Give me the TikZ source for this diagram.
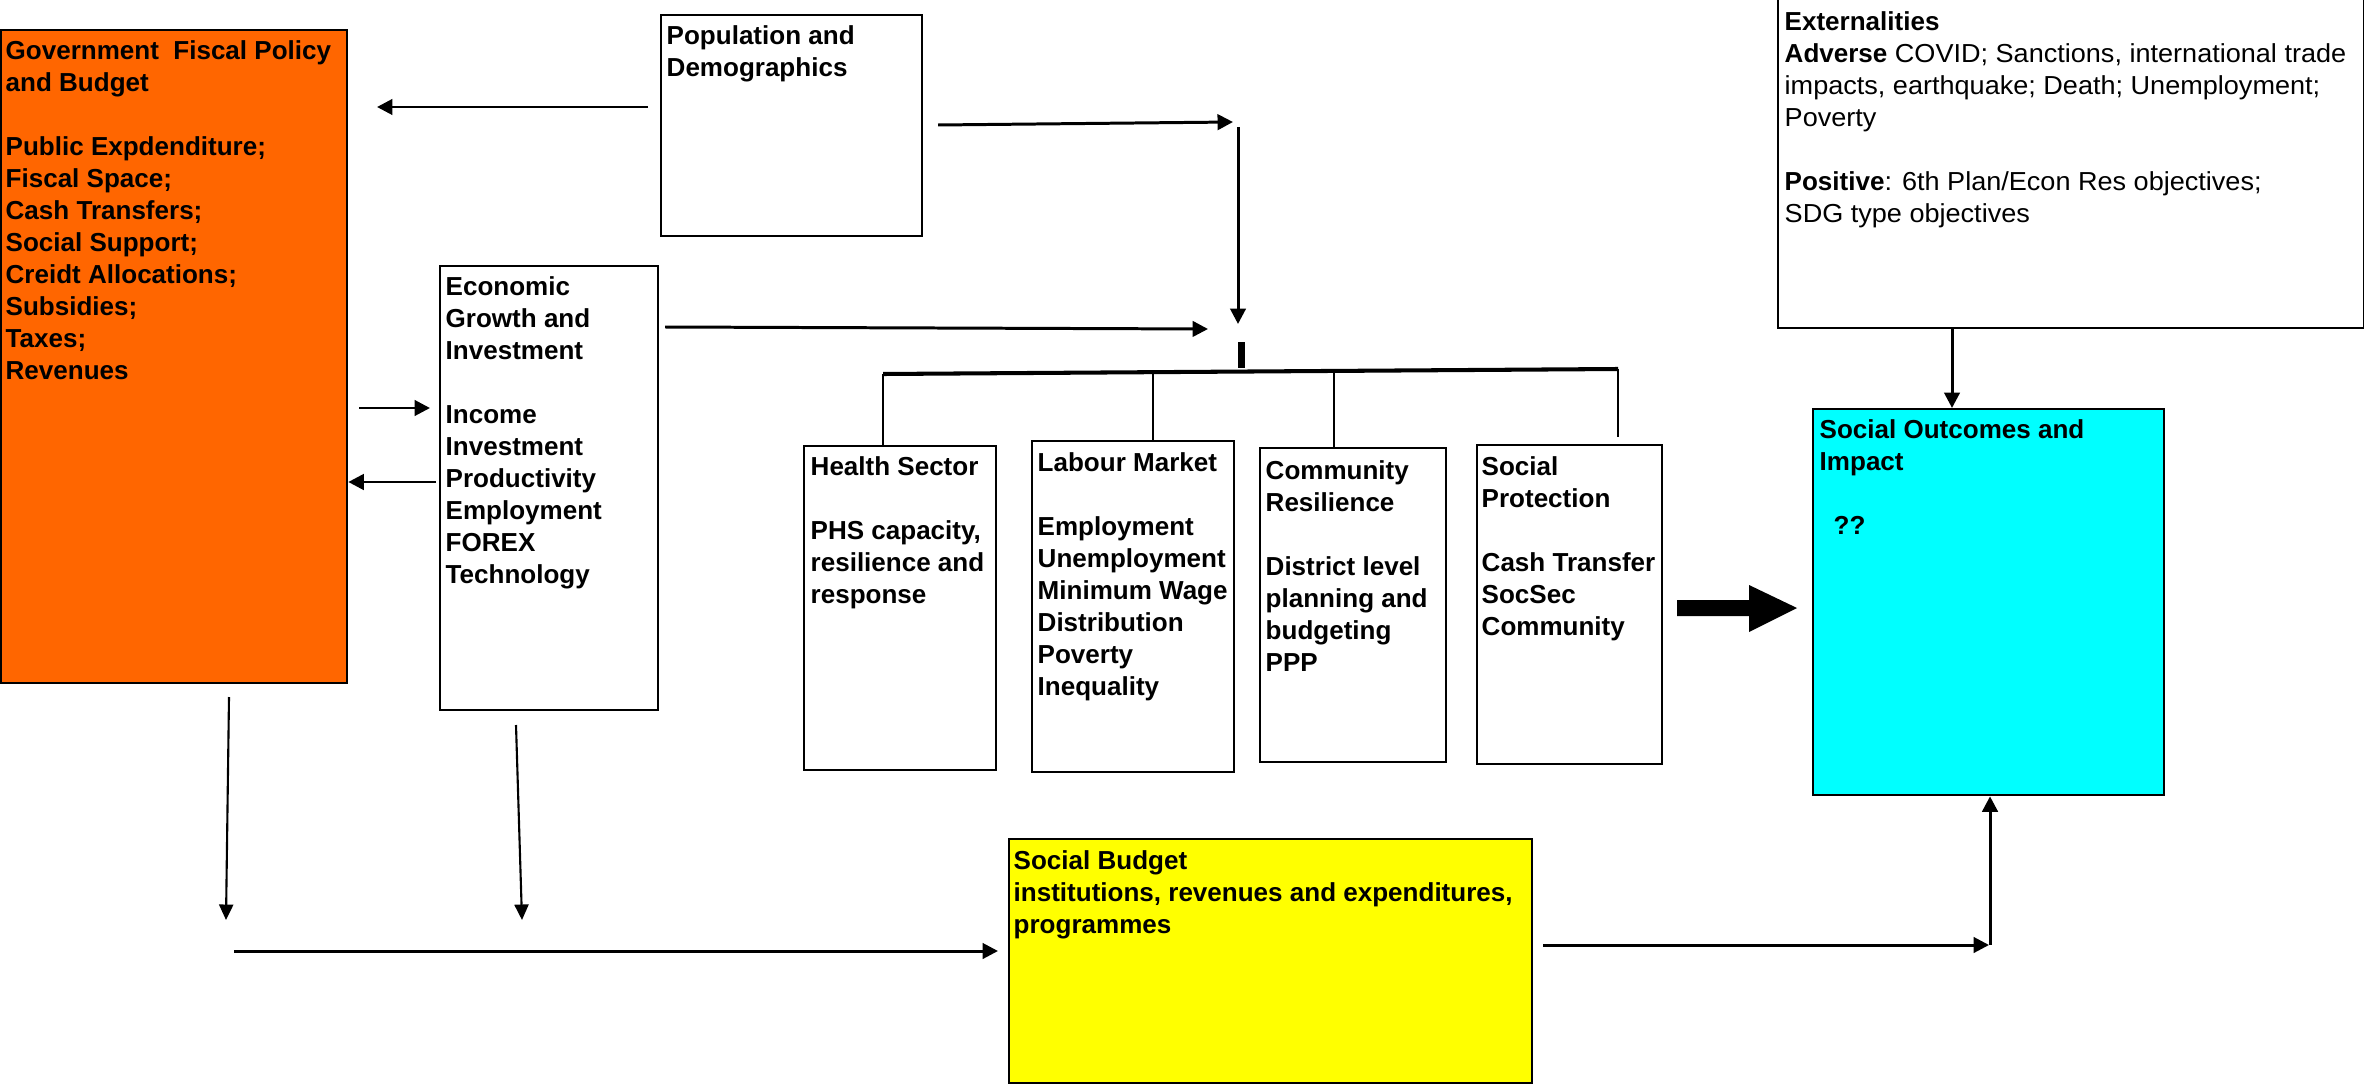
\documentclass[tikz,border=0pt]{standalone}
\usepackage{fontspec}
\setmainfont{Liberation Sans}
\newfontfamily\extreg[FakeStretch=1.04]{Liberation Sans}
\usetikzlibrary{arrows.meta}
\definecolor{govorange}{HTML}{FF6600}
\definecolor{outcyan}{HTML}{00FFFF}
\definecolor{budyellow}{HTML}{FFFF00}
\newcommand{\bfnorm}[1]{{\normalfont\bfseries #1}}
\begin{document}
\begin{tikzpicture}[x=0.01cm,y=-0.01cm,
  boxnode/.style={draw=black, line width=0.6pt, inner sep=0, anchor=north west},
  txt/.style={anchor=north west, align=left, inner sep=0, font=\fontsize{7.4pt}{9.1pt}\selectfont\bfseries},
  txtreg/.style={anchor=north west, align=left, inner sep=0, font=\fontsize{7.4pt}{9.1pt}\selectfont\extreg},
  arr/.style={line width=0.85pt, -{Triangle[length=4.4pt,width=4.4pt]}},
  thinarr/.style={line width=0.6pt, -{Triangle[length=4.4pt,width=4pt]}},
  plain/.style={line width=0.6pt}]
\useasboundingbox (0,0) rectangle (2364,1085);
\fill[white] (0,0) rectangle (2364,1085);

% boxes
\node[boxnode, fill=govorange, minimum width=3.46cm, minimum height=6.53cm] (gov) at (0,29) {};
\node[boxnode, minimum width=2.61cm, minimum height=2.21cm] (pop) at (660,14) {};
\node[boxnode, minimum width=2.18cm, minimum height=4.44cm] (econ) at (439,265) {};
\node[boxnode, minimum width=5.86cm, minimum height=3.32cm] (ext) at (1777,-5) {};
\node[boxnode, minimum width=1.92cm, minimum height=3.24cm] (health) at (803,445) {};
\node[boxnode, minimum width=2.02cm, minimum height=3.31cm] (labour) at (1031,440) {};
\node[boxnode, minimum width=1.86cm, minimum height=3.14cm] (comm) at (1259,447) {};
\node[boxnode, minimum width=1.85cm, minimum height=3.19cm] (socprot) at (1476,444) {};
\node[boxnode, fill=outcyan, minimum width=3.51cm, minimum height=3.86cm] (outc) at (1812,408) {};
\node[boxnode, fill=budyellow, minimum width=5.23cm, minimum height=2.44cm] (budget) at (1008,838) {};

% texts
\node[txt] (govtxt) at (5,40) {Government\ \ Fiscal Policy\\and Budget\\[9.1pt]Public Expdenditure;\\Fiscal Space;\\Cash Transfers;\\Social Support;\\Creidt Allocations;\\Subsidies;\\Taxes;\\Revenues};
\node[txt] (poptxt) at (666,25) {Population and\\Demographics};
\node[txt] (econtxt) at (445,276) {Economic\\Growth and\\Investment\\[9.1pt]Income\\Investment\\Productivity\\Employment\\FOREX\\Technology};
\node[txtreg] (exttxt) at (1784,11) {\bfnorm{Externalities}\\\bfnorm{Adverse} COVID; Sanctions, international trade\\impacts, earthquake; Death; Unemployment;\\Poverty\\[9.1pt]\bfnorm{Positive}: 6th Plan/Econ Res objectives;\\SDG type objectives};
\node[txt] (healthtxt) at (810,456) {Health Sector\\[9.1pt]PHS capacity,\\resilience and\\response};
\node[txt] (labourtxt) at (1037,452) {Labour Market\\[9.1pt]Employment\\Unemployment\\Minimum Wage\\Distribution\\Poverty\\Inequality};
\node[txt] (commtxt) at (1265,460) {Community\\Resilience\\[9.1pt]District level\\planning and\\budgeting\\PPP};
\node[txt] (socprottxt) at (1481,456) {Social\\Protection\\[9.1pt]Cash Transfer\\SocSec\\Community};
\node[txt] (outctxt) at (1819,419) {Social Outcomes and\\Impact\\[9.1pt]\hspace{0.14cm}??};
\node[txt] (budtxt) at (1013,850) {Social Budget\\institutions, revenues and expenditures,\\programmes};

% free connector ends
\coordinate (p1) at (648,107);  \coordinate (p2) at (377,107);
\coordinate (p3) at (938,125);  \coordinate (p4) at (1233,122);
\coordinate (j1) at (1238,127); \coordinate (j2) at (1238,324);
\coordinate (e1) at (665,327);  \coordinate (e2) at (1208,329);
\coordinate (b1) at (1241,342); \coordinate (b2) at (1241,368);
\coordinate (h1) at (883,374);  \coordinate (h2) at (1618,369);
\coordinate (d2) at (1153,371); \coordinate (d3) at (1334,369);
\coordinate (d4e) at (1618,437);
\coordinate (g1) at (359,408);  \coordinate (g2) at (430,408);
\coordinate (g3) at (436,482);
\coordinate (v1) at (229,697);  \coordinate (v2) at (226,920);
\coordinate (w1) at (516,725);  \coordinate (w2) at (522,920);
\coordinate (s1) at (234,951);  \coordinate (s2) at (998,951);
\coordinate (r1) at (1543,945); \coordinate (r2) at (1989,945);
\coordinate (r3) at (1990,945);
\coordinate (x1) at (1952,0);

% connectors
\draw[arr] (p1) -- (p2);
\draw[arr] (p3) -- (p4);
\draw[arr] (j1) -- (j2);
\draw[arr] (e1) -- (e2);
\draw[line width=2pt] (b1) -- (b2);
\draw[line width=1.15pt] (h1) -- (h2);
\draw[plain] (h1) -- (health.north west -| h1);
\draw[plain] (d2) -- (labour.north west -| d2);
\draw[plain] (d3) -- (comm.north west -| d3);
\draw[plain] (h2) -- (d4e);
\draw[arr] (g1) -- (g2);
\draw[arr] (g3) -- (gov.east |- g3);
\draw[arr] (ext.south west -| x1) -- (outc.north west -| x1);
\draw[thinarr] (v1) -- (v2);
\draw[thinarr] (w1) -- (w2);
\draw[arr] (s1) -- (s2);
\draw[arr] (r1) -- (r2);
\draw[arr] (r3) -- (outc.south west -| r3);

% big block arrow
\fill[black] (1677,600) -- (1749,600) -- (1749,585) -- (1797,608) -- (1749,632) -- (1749,616) -- (1677,616) -- cycle;
\end{tikzpicture}
\end{document}
